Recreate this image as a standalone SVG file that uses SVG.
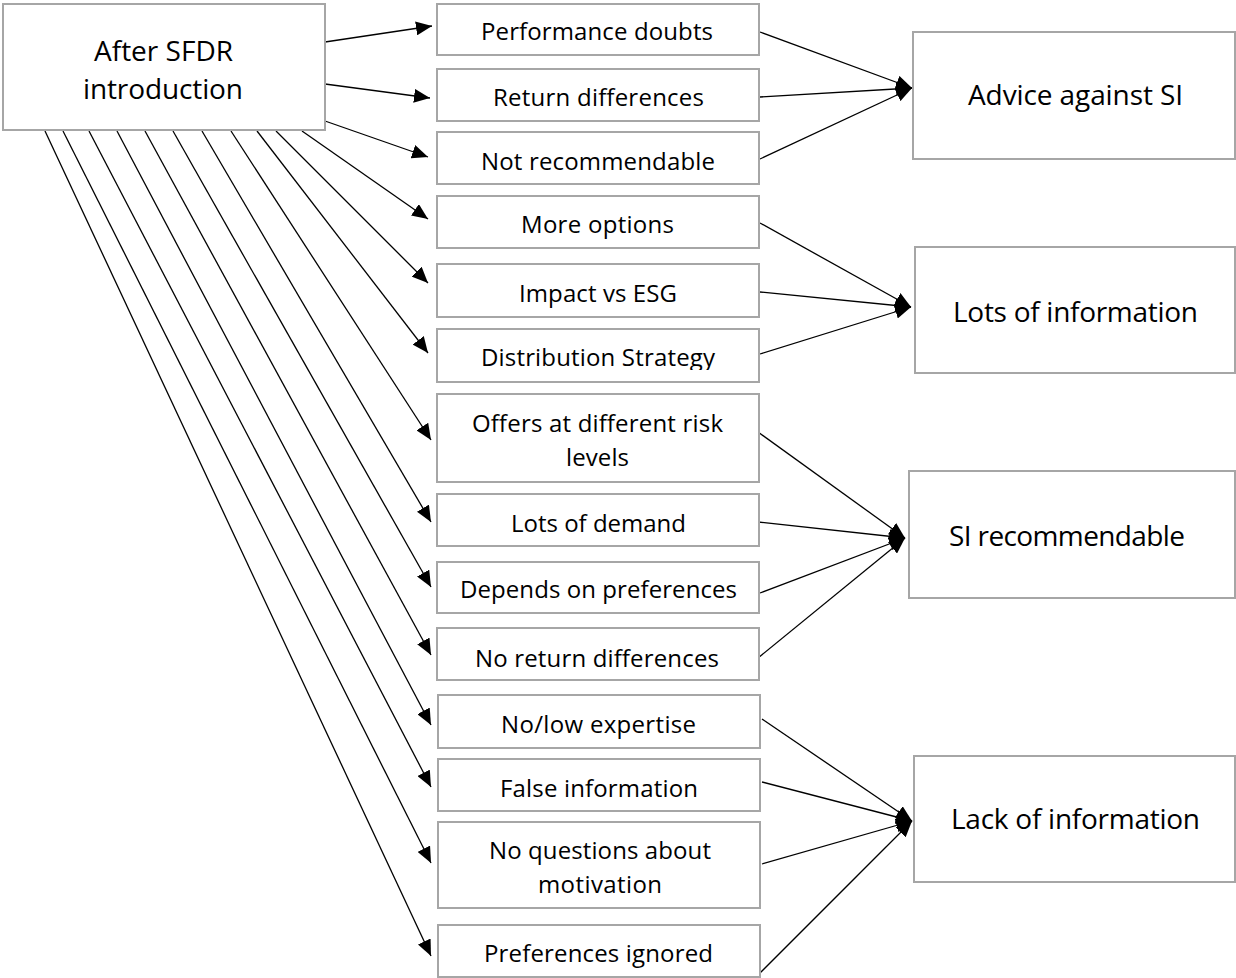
<svg xmlns="http://www.w3.org/2000/svg" width="1236" height="978" viewBox="0 0 1236 978">
<style>
.box{fill:#fff;stroke:#a6a6a6;stroke-width:2}
.t{font-family:"Open Sans","Noto Sans",Lato,"Liberation Sans",sans-serif;font-size:24px;fill:#000;text-anchor:middle}
.tl{font-family:"Open Sans","Noto Sans",Lato,"Liberation Sans",sans-serif;font-size:28px;fill:#000;text-anchor:middle}
.c{stroke:#000;stroke-width:1.3;fill:none;marker-end:url(#ah)}
</style>
<defs>
<marker id="ah" viewBox="0 0 16 14" refX="16" refY="7" markerWidth="16" markerHeight="14" markerUnits="userSpaceOnUse" orient="auto">
<path d="M0,0 L16,7 L0,14 z" fill="#000"/>
</marker>
<clipPath id="clipDist"><rect x="437" y="329" width="322" height="41"/></clipPath>
</defs>
<rect width="1236" height="978" fill="#fff"/>
<g id="connectors">
<line class="c" x1="325" y1="42" x2="432" y2="26"/>
<line class="c" x1="325" y1="84" x2="430" y2="98"/>
<line class="c" x1="325" y1="121" x2="428" y2="157"/>
<line class="c" x1="302" y1="131" x2="428" y2="219"/>
<line class="c" x1="276" y1="131" x2="428" y2="283"/>
<line class="c" x1="257" y1="131" x2="428" y2="353"/>
<line class="c" x1="231" y1="131" x2="431" y2="440"/>
<line class="c" x1="202" y1="131" x2="431" y2="522"/>
<line class="c" x1="173" y1="131" x2="431" y2="587"/>
<line class="c" x1="145" y1="131" x2="431" y2="655"/>
<line class="c" x1="117" y1="131" x2="431" y2="725"/>
<line class="c" x1="89" y1="131" x2="431" y2="787"/>
<line class="c" x1="63" y1="131" x2="431" y2="863"/>
<line class="c" x1="45" y1="131" x2="431" y2="956"/>
<line class="c" x1="760" y1="32" x2="912" y2="88"/>
<line class="c" x1="760" y1="97" x2="912" y2="88"/>
<line class="c" x1="760" y1="159" x2="912" y2="88"/>
<line class="c" x1="760" y1="223" x2="911" y2="307"/>
<line class="c" x1="760" y1="292" x2="911" y2="307"/>
<line class="c" x1="760" y1="354" x2="911" y2="307"/>
<line class="c" x1="758" y1="432" x2="905" y2="538"/>
<line class="c" x1="758" y1="522" x2="905" y2="538"/>
<line class="c" x1="760" y1="593" x2="905" y2="538"/>
<line class="c" x1="758" y1="658" x2="905" y2="538"/>
<line class="c" x1="762" y1="719" x2="912" y2="821"/>
<line class="c" x1="762" y1="782" x2="912" y2="821"/>
<line class="c" x1="762" y1="864" x2="912" y2="821"/>
<line class="c" x1="760" y1="973" x2="912" y2="821"/>
</g>
<g id="n-source"><rect class="box" x="3" y="4" width="322" height="126"/>
<text class="tl" x="163.5" y="61" textLength="139">After SFDR</text>
<text class="tl" x="163" y="99" textLength="160">introduction</text></g>
<g id="n-performance"><rect class="box" x="437" y="4" width="322" height="51"/><text class="t" x="597" y="40" textLength="232">Performance doubts</text></g>
<g id="n-return"><rect class="box" x="437" y="69" width="322" height="52"/><text class="t" x="598.5" y="106" textLength="211">Return differences</text></g>
<g id="n-notrec"><rect class="box" x="437" y="132" width="322" height="52"/><text class="t" x="598" y="170" textLength="234">Not recommendable</text></g>
<g id="n-moreopt"><rect class="box" x="437" y="196" width="322" height="52"/><text class="t" x="597.5" y="233" textLength="153">More options</text></g>
<g id="n-impact"><rect class="box" x="437" y="264" width="322" height="53"/><text class="t" x="598" y="302" textLength="158">Impact vs ESG</text></g>
<g id="n-distribution"><rect class="box" x="437" y="329" width="322" height="53"/><text class="t" x="598" y="366" textLength="234" clip-path="url(#clipDist)">Distribution Strategy</text></g>
<g id="n-offers"><rect class="box" x="437" y="394" width="322" height="88"/><text class="t" x="597.5" y="432" textLength="251">Offers at different risk</text><text class="t" x="597.5" y="466" textLength="63">levels</text></g>
<g id="n-demand"><rect class="box" x="437" y="494" width="322" height="52"/><text class="t" x="598.5" y="532" textLength="175">Lots of demand</text></g>
<g id="n-depends"><rect class="box" x="437" y="562" width="322" height="51"/><text class="t" x="598.5" y="598" textLength="277">Depends on preferences</text></g>
<g id="n-noreturn"><rect class="box" x="437" y="628" width="322" height="52"/><text class="t" x="597" y="667" textLength="244">No return differences</text></g>
<g id="n-nolow"><rect class="box" x="438" y="695" width="322" height="53"/><text class="t" x="598.5" y="733" textLength="195">No/low expertise</text></g>
<g id="n-false"><rect class="box" x="438" y="759" width="322" height="52"/><text class="t" x="599" y="797" textLength="198">False information</text></g>
<g id="n-noquestions"><rect class="box" x="438" y="822" width="322" height="86"/><text class="t" x="600" y="859" textLength="222">No questions about</text><text class="t" x="600" y="893" textLength="124">motivation</text></g>
<g id="n-ignored"><rect class="box" x="438" y="925" width="322" height="52"/><text class="t" x="598.5" y="962" textLength="229">Preferences ignored</text></g>
<g id="n-advice"><rect class="box" x="913" y="32" width="322" height="127"/><text class="tl" x="1075.5" y="105" textLength="215">Advice against SI</text></g>
<g id="n-lotsinfo"><rect class="box" x="915" y="247" width="320" height="126"/><text class="tl" x="1075.5" y="322" textLength="245">Lots of information</text></g>
<g id="n-sirec"><rect class="box" x="909" y="471" width="326" height="127"/><text class="tl" x="1067" y="546" textLength="236">SI recommendable</text></g>
<g id="n-lackinfo"><rect class="box" x="914" y="756" width="321" height="126"/><text class="tl" x="1075.5" y="829" textLength="249">Lack of information</text></g>
</svg>
